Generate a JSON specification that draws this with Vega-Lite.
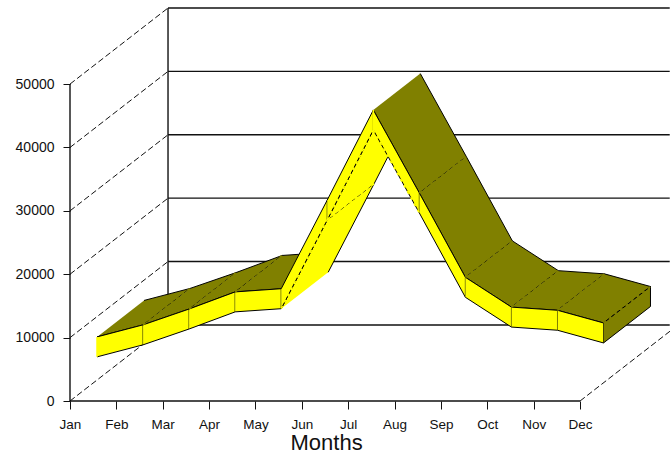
{"$schema":"https://vega.github.io/schema/vega-lite/v6.json","width":600,"height":393,"autosize":{"type":"none"},"padding":{"left":70,"top":8,"right":0,"bottom":56},"background":"white","view":{"stroke":null},
"config":{"axis":{"labelFont":"Liberation Sans","titleFont":"Liberation Sans","labelColor":"#111","titleColor":"#111","tickColor":"#111","domain":false,"grid":false}},
"datasets":{
"months":[{"m":0,"month":"Jan","high":6800,"low":3650},{"m":1,"month":"Feb","high":8700,"low":5550},{"m":2,"month":"Mar","high":11200,"low":8050},{"m":3,"month":"Apr","high":13900,"low":10750},{"m":4,"month":"May","high":14400,"low":11250},{"m":5,"month":"Jun","high":28400,"low":25250},{"m":6,"month":"Jul","high":42600,"low":39450},{"m":7,"month":"Aug","high":29500,"low":26350},{"m":8,"month":"Sep","high":16200,"low":13050},{"m":9,"month":"Oct","high":11500,"low":8350},{"m":10,"month":"Nov","high":11000,"low":7850},{"m":11,"month":"Dec","high":9000,"low":5850}],
"faces":[
{"f":"a0","k":"top","s":0,"m":0,"d":0,"l":1},{"f":"a0","k":"top","s":1,"m":1,"d":0,"l":1},{"f":"a0","k":"top","s":2,"m":1,"d":1,"l":1},{"f":"a0","k":"top","s":3,"m":0,"d":1,"l":1},
{"f":"b0","k":"front","s":0,"m":0,"d":0,"l":1},{"f":"b0","k":"front","s":1,"m":1,"d":0,"l":1},{"f":"b0","k":"front","s":2,"m":1,"d":0,"l":0},{"f":"b0","k":"front","s":3,"m":0,"d":0,"l":0},
{"f":"a1","k":"top","s":0,"m":1,"d":0,"l":1},{"f":"a1","k":"top","s":1,"m":2,"d":0,"l":1},{"f":"a1","k":"top","s":2,"m":2,"d":1,"l":1},{"f":"a1","k":"top","s":3,"m":1,"d":1,"l":1},
{"f":"b1","k":"front","s":0,"m":1,"d":0,"l":1},{"f":"b1","k":"front","s":1,"m":2,"d":0,"l":1},{"f":"b1","k":"front","s":2,"m":2,"d":0,"l":0},{"f":"b1","k":"front","s":3,"m":1,"d":0,"l":0},
{"f":"a2","k":"top","s":0,"m":2,"d":0,"l":1},{"f":"a2","k":"top","s":1,"m":3,"d":0,"l":1},{"f":"a2","k":"top","s":2,"m":3,"d":1,"l":1},{"f":"a2","k":"top","s":3,"m":2,"d":1,"l":1},
{"f":"b2","k":"front","s":0,"m":2,"d":0,"l":1},{"f":"b2","k":"front","s":1,"m":3,"d":0,"l":1},{"f":"b2","k":"front","s":2,"m":3,"d":0,"l":0},{"f":"b2","k":"front","s":3,"m":2,"d":0,"l":0},
{"f":"a3","k":"top","s":0,"m":3,"d":0,"l":1},{"f":"a3","k":"top","s":1,"m":4,"d":0,"l":1},{"f":"a3","k":"top","s":2,"m":4,"d":1,"l":1},{"f":"a3","k":"top","s":3,"m":3,"d":1,"l":1},
{"f":"b3","k":"front","s":0,"m":3,"d":0,"l":1},{"f":"b3","k":"front","s":1,"m":4,"d":0,"l":1},{"f":"b3","k":"front","s":2,"m":4,"d":0,"l":0},{"f":"b3","k":"front","s":3,"m":3,"d":0,"l":0},
{"f":"a4","k":"under","s":0,"m":4,"d":0,"l":0},{"f":"a4","k":"under","s":1,"m":5,"d":0,"l":0},{"f":"a4","k":"under","s":2,"m":5,"d":1,"l":0},{"f":"a4","k":"under","s":3,"m":4,"d":1,"l":0},
{"f":"b4","k":"front","s":0,"m":4,"d":0,"l":1},{"f":"b4","k":"front","s":1,"m":5,"d":0,"l":1},{"f":"b4","k":"front","s":2,"m":5,"d":0,"l":0},{"f":"b4","k":"front","s":3,"m":4,"d":0,"l":0},
{"f":"a5","k":"under","s":0,"m":5,"d":0,"l":0},{"f":"a5","k":"under","s":1,"m":6,"d":0,"l":0},{"f":"a5","k":"under","s":2,"m":6,"d":1,"l":0},{"f":"a5","k":"under","s":3,"m":5,"d":1,"l":0},
{"f":"b5","k":"front","s":0,"m":5,"d":0,"l":1},{"f":"b5","k":"front","s":1,"m":6,"d":0,"l":1},{"f":"b5","k":"front","s":2,"m":6,"d":0,"l":0},{"f":"b5","k":"front","s":3,"m":5,"d":0,"l":0},
{"f":"a6","k":"top","s":0,"m":6,"d":0,"l":1},{"f":"a6","k":"top","s":1,"m":7,"d":0,"l":1},{"f":"a6","k":"top","s":2,"m":7,"d":1,"l":1},{"f":"a6","k":"top","s":3,"m":6,"d":1,"l":1},
{"f":"b6","k":"front","s":0,"m":6,"d":0,"l":1},{"f":"b6","k":"front","s":1,"m":7,"d":0,"l":1},{"f":"b6","k":"front","s":2,"m":7,"d":0,"l":0},{"f":"b6","k":"front","s":3,"m":6,"d":0,"l":0},
{"f":"a7","k":"top","s":0,"m":7,"d":0,"l":1},{"f":"a7","k":"top","s":1,"m":8,"d":0,"l":1},{"f":"a7","k":"top","s":2,"m":8,"d":1,"l":1},{"f":"a7","k":"top","s":3,"m":7,"d":1,"l":1},
{"f":"b7","k":"front","s":0,"m":7,"d":0,"l":1},{"f":"b7","k":"front","s":1,"m":8,"d":0,"l":1},{"f":"b7","k":"front","s":2,"m":8,"d":0,"l":0},{"f":"b7","k":"front","s":3,"m":7,"d":0,"l":0},
{"f":"a8","k":"top","s":0,"m":8,"d":0,"l":1},{"f":"a8","k":"top","s":1,"m":9,"d":0,"l":1},{"f":"a8","k":"top","s":2,"m":9,"d":1,"l":1},{"f":"a8","k":"top","s":3,"m":8,"d":1,"l":1},
{"f":"b8","k":"front","s":0,"m":8,"d":0,"l":1},{"f":"b8","k":"front","s":1,"m":9,"d":0,"l":1},{"f":"b8","k":"front","s":2,"m":9,"d":0,"l":0},{"f":"b8","k":"front","s":3,"m":8,"d":0,"l":0},
{"f":"a9","k":"top","s":0,"m":9,"d":0,"l":1},{"f":"a9","k":"top","s":1,"m":10,"d":0,"l":1},{"f":"a9","k":"top","s":2,"m":10,"d":1,"l":1},{"f":"a9","k":"top","s":3,"m":9,"d":1,"l":1},
{"f":"b9","k":"front","s":0,"m":9,"d":0,"l":1},{"f":"b9","k":"front","s":1,"m":10,"d":0,"l":1},{"f":"b9","k":"front","s":2,"m":10,"d":0,"l":0},{"f":"b9","k":"front","s":3,"m":9,"d":0,"l":0},
{"f":"c0","k":"top","s":0,"m":10,"d":0,"l":1},{"f":"c0","k":"top","s":1,"m":11,"d":0,"l":1},{"f":"c0","k":"top","s":2,"m":11,"d":1,"l":1},{"f":"c0","k":"top","s":3,"m":10,"d":1,"l":1},
{"f":"c1","k":"front","s":0,"m":10,"d":0,"l":1},{"f":"c1","k":"front","s":1,"m":11,"d":0,"l":1},{"f":"c1","k":"front","s":2,"m":11,"d":0,"l":0},{"f":"c1","k":"front","s":3,"m":10,"d":0,"l":0},
{"f":"c2","k":"end","s":0,"m":11,"d":0,"l":1},{"f":"c2","k":"end","s":1,"m":11,"d":1,"l":1},{"f":"c2","k":"end","s":2,"m":11,"d":1,"l":0},{"f":"c2","k":"end","s":3,"m":11,"d":0,"l":0}],
"dashes":[
{"f":"t1","k":"top","s":0,"m":1,"d":0,"l":1},{"f":"t1","k":"top","s":1,"m":1,"d":1,"l":1},
{"f":"t2","k":"top","s":0,"m":2,"d":0,"l":1},{"f":"t2","k":"top","s":1,"m":2,"d":1,"l":1},
{"f":"t3","k":"top","s":0,"m":3,"d":0,"l":1},{"f":"t3","k":"top","s":1,"m":3,"d":1,"l":1},
{"f":"t7","k":"top","s":0,"m":7,"d":0,"l":1},{"f":"t7","k":"top","s":1,"m":7,"d":1,"l":1},
{"f":"t8","k":"top","s":0,"m":8,"d":0,"l":1},{"f":"t8","k":"top","s":1,"m":8,"d":1,"l":1},
{"f":"t9","k":"top","s":0,"m":9,"d":0,"l":1},{"f":"t9","k":"top","s":1,"m":9,"d":1,"l":1},
{"f":"t10","k":"top","s":0,"m":10,"d":0,"l":1},{"f":"t10","k":"top","s":1,"m":10,"d":1,"l":1},
{"f":"t11","k":"top","s":0,"m":11,"d":0,"l":1},{"f":"t11","k":"top","s":1,"m":11,"d":1,"l":1},
{"f":"u4","k":"front","s":0,"m":4,"d":0,"l":0},{"f":"u4","k":"front","s":1,"m":5,"d":0,"l":0},
{"f":"u5","k":"front","s":0,"m":5,"d":0,"l":0},{"f":"u5","k":"front","s":1,"m":6,"d":0,"l":0},
{"f":"u6","k":"front","s":0,"m":6,"d":0,"l":0},{"f":"u6","k":"front","s":1,"m":7,"d":0,"l":0},
{"f":"x5","k":"front","s":0,"m":5,"d":0,"l":0},{"f":"x5","k":"front","s":1,"m":5,"d":1,"l":0}],
"covers":[
{"f":"v0","s":0,"m":0,"d":0,"l":1},{"f":"v0","s":1,"m":0,"d":0,"l":0},
{"f":"v6","s":0,"m":6,"d":0,"l":1},{"f":"v6","s":1,"m":6,"d":0,"l":0}],
"frameSolid":[
{"e":"axisY","s":0,"m":0,"D":0,"v":0},{"e":"axisY","s":1,"m":0,"D":0,"v":50000},
{"e":"axisX","s":0,"m":0,"D":0,"v":0},{"e":"axisX","s":1,"m":11,"D":0,"v":0},
{"e":"wall","s":0,"m":0,"D":1,"v":0},{"e":"wall","s":1,"m":0,"D":1,"v":50000},
{"e":"w0","s":0,"m":0,"D":1,"v":0},{"e":"w0","s":1,"m":10.82,"D":1,"v":0},
{"e":"w1","s":0,"m":0,"D":1,"v":10000},{"e":"w1","s":1,"m":10.82,"D":1,"v":10000},
{"e":"w2","s":0,"m":0,"D":1,"v":20000},{"e":"w2","s":1,"m":10.82,"D":1,"v":20000},
{"e":"w3","s":0,"m":0,"D":1,"v":30000},{"e":"w3","s":1,"m":10.82,"D":1,"v":30000},
{"e":"w4","s":0,"m":0,"D":1,"v":40000},{"e":"w4","s":1,"m":10.82,"D":1,"v":40000},
{"e":"w5","s":0,"m":0,"D":1,"v":50000},{"e":"w5","s":1,"m":10.82,"D":1,"v":50000}],
"frameDashed":[
{"e":"d0","s":0,"m":0,"D":0,"v":0},{"e":"d0","s":1,"m":0,"D":1,"v":0},
{"e":"d1","s":0,"m":0,"D":0,"v":10000},{"e":"d1","s":1,"m":0,"D":1,"v":10000},
{"e":"d2","s":0,"m":0,"D":0,"v":20000},{"e":"d2","s":1,"m":0,"D":1,"v":20000},
{"e":"d3","s":0,"m":0,"D":0,"v":30000},{"e":"d3","s":1,"m":0,"D":1,"v":30000},
{"e":"d4","s":0,"m":0,"D":0,"v":40000},{"e":"d4","s":1,"m":0,"D":1,"v":40000},
{"e":"d5","s":0,"m":0,"D":0,"v":50000},{"e":"d5","s":1,"m":0,"D":1,"v":50000},
{"e":"d6","s":0,"m":11,"D":0,"v":0},{"e":"d6","s":1,"m":11,"D":0.92,"v":0}]},
"encoding":{
"x":{"field":"px","type":"quantitative","scale":{"domain":[0,12.94],"nice":false,"zero":false},"axis":{"values":[0,1,2,3,4,5,6,7,8,9,10,11],"labelExpr":"['Jan','Feb','Mar','Apr','May','Jun','Jul','Aug','Sep','Oct','Nov','Dec'][datum.value]","labelFontSize":13.5,"tickSize":8,"labelPadding":8,"labelFlush":false,"labelOverlap":false,"title":"Months","titleFontSize":22,"titleFontWeight":"normal","titlePadding":2,"titleAnchor":"start","titleX":220}},
"y":{"field":"py","type":"quantitative","scale":{"domain":[0,62000],"nice":false,"zero":false},"axis":{"values":[0,10000,20000,30000,40000,50000],"format":"d","labelFontSize":14,"tickSize":7,"labelPadding":9,"title":null}},
"order":{"field":"s","type":"quantitative"}},
"layer":[
{"data":{"name":"frameDashed"},"transform":[{"calculate":"datum.m+2.114*datum.D","as":"px"},{"calculate":"datum.v+12000*datum.D","as":"py"}],"mark":{"type":"line","stroke":"#111","strokeWidth":1,"strokeDash":[6,3]},"encoding":{"detail":{"field":"e"}}},
{"data":{"name":"frameSolid"},"transform":[{"calculate":"datum.m+2.114*datum.D","as":"px"},{"calculate":"datum.v+12000*datum.D","as":"py"}],"mark":{"type":"line","stroke":"#111","strokeWidth":1.4},"encoding":{"detail":{"field":"e"}}},
{"data":{"name":"faces"},"transform":[{"lookup":"m","from":{"data":{"name":"months"},"key":"m","fields":["high","low"]}},{"calculate":"datum.m*0.993+2.114*(0.276+0.479*datum.d)","as":"px"},{"calculate":"(datum.l==1?datum.high:datum.low)+12000*(0.276+0.479*datum.d)","as":"py"}],"mark":{"type":"line","stroke":"#000","strokeWidth":1,"fillOpacity":1},"encoding":{"detail":{"field":"f"},"fill":{"field":"k","type":"nominal","legend":null,"scale":{"domain":["top","front","under","end"],"range":["#808000","#ffff00","#ffff00","#808000"]}}}},
{"data":{"name":"dashes"},"transform":[{"lookup":"m","from":{"data":{"name":"months"},"key":"m","fields":["high","low"]}},{"calculate":"datum.m*0.993+2.114*(0.276+0.479*datum.d)","as":"px"},{"calculate":"(datum.l==1?datum.high:datum.low)+12000*(0.276+0.479*datum.d)","as":"py"}],"mark":{"type":"line","strokeWidth":1.6,"strokeDash":[3,4]},"encoding":{"detail":{"field":"f"},"stroke":{"field":"k","type":"nominal","legend":null,"scale":{"domain":["top","front"],"range":["#808000","#ffff00"]}}}},
{"data":{"name":"covers"},"transform":[{"lookup":"m","from":{"data":{"name":"months"},"key":"m","fields":["high","low"]}},{"calculate":"datum.m*0.993+2.114*(0.276+0.479*datum.d)","as":"px"},{"calculate":"(datum.l==1?datum.high:datum.low)+12000*(0.276+0.479*datum.d)","as":"py"}],"mark":{"type":"line","stroke":"#ffff00","strokeWidth":1.6},"encoding":{"detail":{"field":"f"}}}
]}
